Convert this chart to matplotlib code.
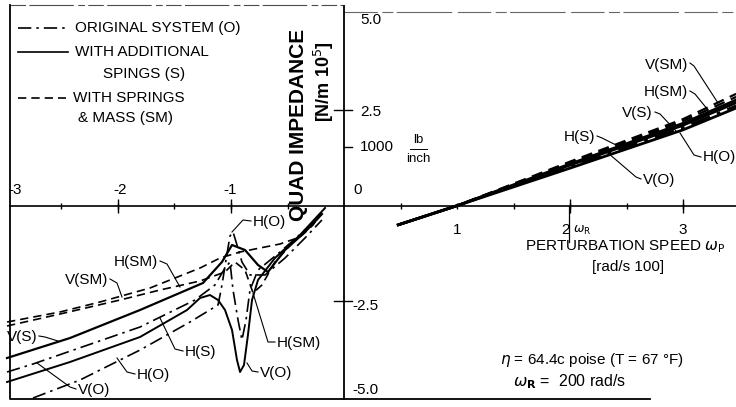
import matplotlib.pyplot as plt

plt.rcParams['font.family'] = ['Liberation Sans', 'DejaVu Sans']

# left half: quadrature impedance vs negative perturbation speed
vo_x = [-2.982, -2.752, -1.805, -1.319, -1.142, -1.053, -1.009, -0.982, -0.938, -0.903, -0.867, -0.832, -0.761, -0.566, -0.345, -0.212]
vo_y = [-4.342, -4.133, -3.167, -2.462, -2.070, -1.627, -1.470, -2.201, -2.984, -3.506, -2.984, -2.201, -1.679, -1.209, -0.634, -0.268]

ho_x = [-2.752, -2.336, -1.805, -1.363, -1.115, -1.097, -1.080, -1.044, -1.009, -0.982, -0.947, -0.903, -0.832, -0.699, -0.522, -0.345, -0.195]
ho_y = [-5.021, -4.551, -3.768, -3.037, -2.593, -2.332, -2.070, -1.410, -0.791, -0.687, -1.026, -1.470, -1.809, -1.809, -1.366, -0.843, -0.373]

vs_x = [-2.982, -2.425, -1.805, -1.248, -1.080, -0.991, -0.876, -0.761, -0.673, -0.522, -0.345, -0.195]
vs_y = [-3.977, -3.455, -2.723, -2.018, -1.470, -1.026, -1.157, -1.548, -1.731, -1.157, -0.687, -0.217]

hs_x = [-2.982, -2.425, -1.805, -1.389, -1.274, -1.186, -1.115, -1.053, -0.991, -0.947, -0.920, -0.885, -0.850, -0.814, -0.761, -0.611, -0.389, -0.168]
hs_y = [-4.603, -4.081, -3.428, -2.723, -2.410, -2.332, -2.462, -2.723, -3.245, -4.029, -4.342, -4.159, -3.376, -2.462, -1.940, -1.366, -0.765, -0.060]

vsm_x = [-2.982, -2.513, -2.159, -1.717, -1.274, -1.097, -0.920, -0.743, -0.566, -0.389, -0.274, -0.212]
vsm_y = [-3.037, -2.775, -2.514, -2.149, -1.627, -1.366, -1.209, -1.104, -1.000, -0.817, -0.504, -0.243]

hsm_x = [-2.982, -2.513, -1.982, -1.628, -1.274, -1.053, -0.965, -0.876, -0.805, -0.726, -0.611, -0.434, -0.257, -0.168]
hsm_y = [-3.141, -2.828, -2.462, -2.201, -1.966, -1.731, -1.470, -1.679, -2.279, -2.070, -1.470, -0.896, -0.426, -0.112]

# right half: direct stiffness vs perturbation speed
rx = [0.48, 1.0, 2.0, 3.0, 3.47]
r_vsm = [-0.50, 0.0, 1.15, 2.26, 2.92]
r_hsm = [-0.50, 0.0, 1.12, 2.21, 2.84]
r_vs = [-0.50, 0.0, 1.09, 2.15, 2.76]
r_hs = [-0.50, 0.0, 1.06, 2.10, 2.69]
r_ho = [-0.50, 0.0, 1.02, 2.04, 2.61]
r_vo = [-0.50, 0.0, 0.98, 1.98, 2.55]

x_ticks = [-2.5, -2.0, -1.5, -1.0, -0.5, 0.5, 1.0, 1.5, 2.0, 2.5, 3.0]

DD = (0, (8, 3, 1.5, 3))
DA = (0, (5, 3))


def px(x, y):
    return ((x - 344) / 113, (205.7 - y) / 38.3)


def seg(pts, **kw):
    xs, ys = zip(*[px(a, b) for a, b in pts])
    ax.plot(xs, ys, color='k', **kw)


def txt(x, y, s, **kw):
    kw.setdefault('fontsize', 11)
    kw.setdefault('va', 'center')
    ax.text(*px(x, y), s, color='k', **kw)


fig = plt.figure(figsize=(7.36, 4.07), dpi=100)
ax = fig.add_axes([0, 0, 1, 1])
ax.set_xlim(-344 / 113, (736 - 344) / 113)
ax.set_ylim(-(407 - 205.7) / 38.3, 205.7 / 38.3)
ax.axis('off')

lw = 1.2
ax.plot(vo_x, vo_y, color='k', lw=lw, ls=DD)
ax.plot(ho_x, ho_y, color='k', lw=lw, ls=DD)
ax.plot(vs_x, vs_y, color='k', lw=lw + 0.4)
ax.plot(hs_x, hs_y, color='k', lw=lw + 0.2)
ax.plot(vsm_x, vsm_y, color='k', lw=lw, ls=DA)
ax.plot(hsm_x, hsm_y, color='k', lw=lw, ls=DA)

ax.plot(rx, r_vsm, color='k', lw=1.6, ls=DA)
ax.plot(rx, r_hsm, color='k', lw=1.6, ls=DA)
ax.plot(rx, r_vs, color='k', lw=2.0)
ax.plot(rx, r_hs, color='k', lw=2.0)
ax.plot(rx, r_ho, color='k', lw=1.8, ls=DD)
ax.plot(rx, r_vo, color='k', lw=2.0)

# axes, frames, ticks
seg([(10, 205.7), (736, 205.7)], lw=1.2)
seg([(344, 6), (344, 399)], lw=1.3)
seg([(10, 5), (10, 399), (650, 399)], lw=1.3)
seg([(10, 5), (344, 5)], lw=0.8, ls=(0, (14, 3, 40, 4, 6, 3)), alpha=0.7)
seg([(344, 12), (736, 12)], lw=0.8, ls=(0, (30, 4, 10, 3, 50, 5)), alpha=0.6)
ax.plot(x_ticks, [0] * len(x_ticks), ls='none', marker='|', ms=5, mew=1, color='k')
ax.plot([-2.0, -1.0, 2.0, 3.0], [0] * 4, ls='none', marker='|', ms=10, mew=1, color='k')
seg([(334, 110), (352, 110)], lw=1)
seg([(334, 301), (352, 301)], lw=1)
seg([(344, 147), (352, 147)], lw=1)
seg([(569, 205.7), (569, 242)], lw=0.9)

# legend
seg([(18, 28), (68, 28)], lw=lw, ls=DD)
seg([(18, 52), (68, 52)], lw=lw)
seg([(18, 98), (66, 98)], lw=lw, ls=DA)
txt(75, 28, 'ORIGINAL SYSTEM (O)')
txt(75, 52, 'WITH ADDITIONAL')
txt(103, 74, 'SPINGS (S)')
txt(73, 98, 'WITH SPRINGS')
txt(78, 118, '& MASS (SM)')

# axis titles and tick labels
txt(299, 125, 'QUAD IMPEDANCE', fontsize=15, fontweight='bold', rotation=90, ha='center')
txt(324, 82, r'[N/m 10$^5$]', fontsize=13, fontweight='bold', rotation=90, ha='center')
for x, s in [(15, '-3'), (120, '-2'), (230, '-1')]:
    txt(x, 190, s, ha='center')
for y, s in [(20, '5.0'), (112, '2.5'), (147, '1000'), (306, '-2.5'), (390, '-5.0')]:
    txt(352 if s.startswith('-') else 360, y, s, ha='left')
txt(358, 190, '0', ha='center')
txt(418, 140, 'lb', fontsize=9.5, ha='center')
seg([(410, 149), (427, 149)], lw=0.7)
txt(418, 159, 'inch', fontsize=9.5, ha='center')
for x, s in [(457, '1'), (565, '2'), (683, '3')]:
    txt(x, 230, s, ha='center')
txt(573, 230, r'$\omega_\mathrm{R}$', fontsize=9, ha='left')
txt(625, 247, r'PERTURBATION SPEED $\omega_\mathrm{P}$', ha='center')
txt(628, 267, '[rad/s 100]', ha='center')
txt(592, 360, r'$\eta$ = 64.4c poise (T = 67 °F)', ha='center')
txt(570, 382, r'$\omega_\mathbf{R}$ =  200 rad/s', ha='center', fontsize=11.5)

# curve labels with leaders: (text x, text y, label, ha, leader points)
labels = [
    (688, 65, 'V(SM)', 'right', [(690, 63), (694, 66), (718, 103)]),
    (688, 92, 'H(SM)', 'right', [(690, 91), (695, 94), (708, 110)]),
    (653, 113, 'V(S)', 'right', [(655, 112), (660, 114), (677, 132)]),
    (595, 137, 'H(S)', 'right', [(597, 136), (602, 138), (618, 146)]),
    (703, 157, 'H(O)', 'left', [(701, 157), (694, 155), (680, 133)]),
    (643, 180, 'V(O)', 'left', [(641, 179), (636, 177), (608, 153)]),
    (253, 222, 'H(O)', 'left', [(251, 221), (243, 220), (232, 232)]),
    (158, 262, 'H(SM)', 'right', [(160, 261), (167, 264), (180, 287)]),
    (108, 280, 'V(SM)', 'right', [(110, 279), (117, 283), (122, 297)]),
    (7, 337, 'V(S)', 'left', [(39, 336), (45, 337), (58, 341)]),
    (185, 352, 'H(S)', 'left', [(183, 351), (175, 349), (160, 318)]),
    (78, 390, 'V(O)', 'left', [(76, 389), (70, 387), (37, 363)]),
    (137, 375, 'H(O)', 'left', [(135, 374), (127, 372), (117, 358)]),
    (277, 343, 'H(SM)', 'left', [(275, 342), (268, 342), (253, 293)]),
    (260, 373, 'V(O)', 'left', [(258, 372), (252, 371), (247, 363)]),
]
for x, y, s, ha, pts in labels:
    txt(x, y, s, ha=ha)
    seg(pts, lw=0.8)

fig.savefig('out.png', dpi=100)
